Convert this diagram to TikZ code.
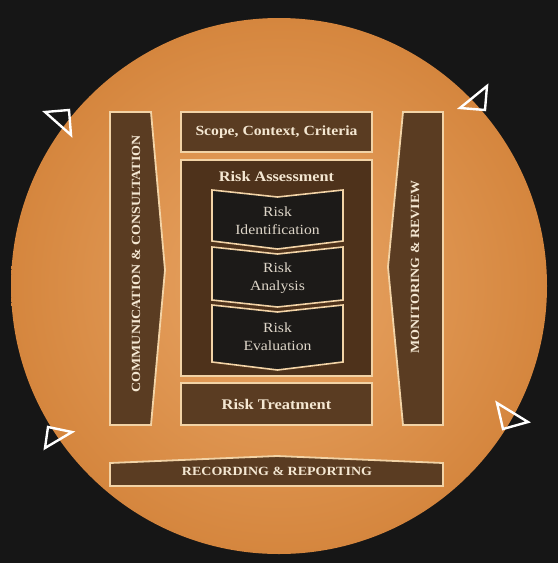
\documentclass[tikz,border=0pt]{standalone}
\usepackage{fontspec}
\setmainfont{Liberation Serif}[FakeStretch=1.12]
\definecolor{bg}{HTML}{161616}
\definecolor{orlight}{HTML}{E9A666}
\definecolor{ordark}{HTML}{D5863E}
\definecolor{boxbrown}{HTML}{5A3C22}
\definecolor{boxdark}{HTML}{4E321B}
\definecolor{cream}{HTML}{F2D3A6}
\definecolor{txtcream}{HTML}{F4E7D2}
\definecolor{chev}{HTML}{1C1A18}
\definecolor{chevtxt}{HTML}{DDD5C8}
\tikzset{
  boxshape/.style={draw=cream, line width=1.8pt, fill=boxbrown, line join=miter},
  rectbox/.style={boxshape, rectangle, inner sep=0pt},
  chevshape/.style={draw=cream, line width=1.6pt, fill=chev, line join=miter},
  bigtxt/.style={text=txtcream, font=\bfseries\fontsize{14.3}{16}\selectfont},
  captxt/.style={text=txtcream, font=\bfseries\fontsize{12.5}{15}\selectfont},
  chevtext/.style={text=chevtxt, align=center, font=\fontsize{14}{18}\selectfont},
  tri/.style={draw=white, line width=2.4pt, line join=miter},
}
\begin{document}
\begin{tikzpicture}[x=1pt,y=-1pt]
\fill[bg] (0,0) rectangle (558,563);
\useasboundingbox (0,0) rectangle (558,563);
% circle
\shade[inner color=orlight, outer color=ordark] (279,286) circle (268pt);
% rotation arrowheads
\draw[tri] (45,112) -- (69,110) -- (71,135) -- cycle;
\draw[tri] (460,108) -- (487,86) -- (485,110) -- cycle;
\draw[tri] (45,448) -- (48,427) -- (72,432) -- cycle;
\draw[tri] (497,403) -- (528,422) -- (503,429) -- cycle;
% communication & consultation
\draw[boxshape] (110,112) -- (151,112) -- (165,270) -- (151,425) -- (110,425) -- cycle;
\node[captxt, rotate=90] (comm) at (136,264) {COMMUNICATION \& CONSULTATION};
% monitoring & review
\draw[boxshape] (403,112) -- (443,112) -- (443,425) -- (403,425) -- (388,267) -- cycle;
\node[captxt, rotate=90] (mon) at (415,267) {MONITORING \& REVIEW};
% recording & reporting
\draw[boxshape] (110,463) -- (277,456) -- (443,463) -- (443,486) -- (110,486) -- cycle;
\node[captxt] (rec) at (277,471) {RECORDING \& REPORTING};
% scope
\node[rectbox, minimum width=191pt, minimum height=40pt, bigtxt, font=\bfseries\fontsize{14}{16}\selectfont] (scope) at (276.5,132) {Scope, Context, Criteria};
% risk assessment
\node[rectbox, fill=boxdark, minimum width=191pt, minimum height=216pt] (assess) at (276.5,268) {};
\node[captxt, font=\bfseries\fontsize{14.5}{16}\selectfont] (assesstitle) at (276.5,177) {Risk Assessment};
% chevrons
\draw[chevshape] (212,190) -- (277.5,197) -- (343,190) -- (343,241) -- (277.5,249) -- (212,241) -- cycle;
\node[chevtext] (ident) at (277.5,221) {Risk\\Identification};
\draw[chevshape] (212,247) -- (277.5,254) -- (343,247) -- (343,300) -- (277.5,307) -- (212,300) -- cycle;
\node[chevtext] (anal) at (277.5,278) {Risk\\Analysis};
\draw[chevshape] (212,305) -- (277.5,312) -- (343,305) -- (343,362) -- (277.5,370) -- (212,362) -- cycle;
\node[chevtext] (eval) at (277.5,337) {Risk\\Evaluation};
% treatment
\node[rectbox, minimum width=191pt, minimum height=42pt, bigtxt, font=\bfseries\fontsize{14.7}{16}\selectfont] (treat) at (276.5,404) {Risk Treatment};
\end{tikzpicture}
\end{document}
